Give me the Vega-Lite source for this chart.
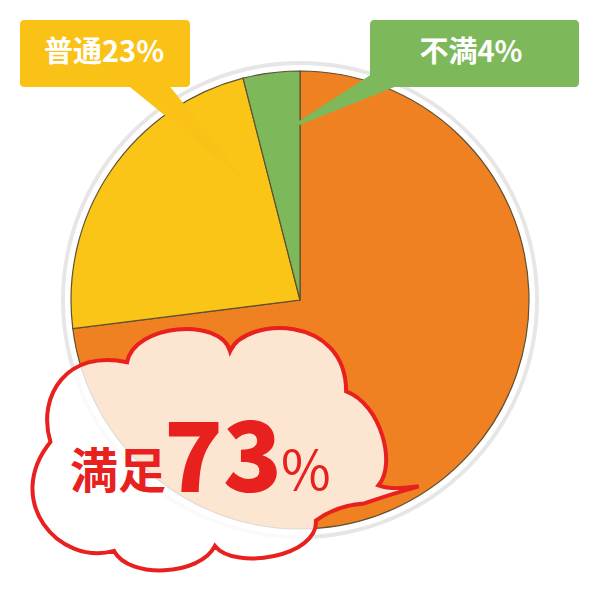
{
  "$schema": "https://vega.github.io/schema/vega-lite/v6.json",
  "width": 600,
  "height": 600,
  "padding": 0,
  "autosize": {"type": "fit", "contains": "padding"},
  "background": "white",
  "config": {
    "font": "Noto Sans CJK JP",
    "view": {"stroke": null},
    "axis": {"disable": true}
  },
  "layer": [
    {
      "data": {"values": [{}]},
      "mark": {"type": "arc", "theta": 0, "theta2": 6.2832, "radius": 239, "fill": "#e6e6e6"},
      "encoding": {}
    },
    {
      "data": {"values": [{}]},
      "mark": {"type": "arc", "theta": 0, "theta2": 6.2832, "radius": 235, "fill": "white"},
      "encoding": {}
    },
    {
      "data": {
        "values": [
          {"category": "満足", "value": 73},
          {"category": "普通", "value": 23},
          {"category": "不満", "value": 4}
        ]
      },
      "mark": {"type": "arc", "radius": 229, "stroke": "#5e5032", "strokeWidth": 1.2},
      "encoding": {
        "theta": {"field": "value", "type": "quantitative", "stack": true},
        "order": {"field": "value", "sort": "descending"},
        "color": {
          "field": "category",
          "type": "nominal",
          "scale": {"domain": ["満足", "普通", "不満"], "range": ["#f08122", "#fac516", "#7db85b"]},
          "legend": null
        }
      }
    },
    {
      "data": {"values": [{}]},
      "layer": [
        {
          "mark": {"type": "rect", "fill": "#fac216", "cornerRadius": 4},
          "encoding": {
            "x": {"datum": 20, "type": "quantitative", "scale": {"domain": [0, 600], "nice": false, "zero": false}},
            "x2": {"datum": 190},
            "y": {"datum": 20, "type": "quantitative", "scale": {"domain": [0, 600], "nice": false, "zero": false, "reverse": true}},
            "y2": {"datum": 87}
          }
        },
        {
          "mark": {"type": "point", "filled": true, "opacity": 1, "fill": "#fac216", "strokeWidth": 0, "size": 40000,
            "shape": "M -0.61 -0.52 L -0.19 -0.52 L 0.62 0.48 Z"},
          "encoding": {
            "x": {"datum": 186, "type": "quantitative"},
            "y": {"datum": 135, "type": "quantitative"}
          }
        },
        {
          "mark": {"type": "rect", "fill": "#7db85b", "cornerRadius": 4},
          "encoding": {
            "x": {"datum": 370, "type": "quantitative"},
            "x2": {"datum": 579},
            "y": {"datum": 20, "type": "quantitative"},
            "y2": {"datum": 87}
          }
        },
        {
          "mark": {"type": "point", "filled": true, "opacity": 1, "fill": "#7db85b", "strokeWidth": 0, "size": 40000,
            "shape": "M 0.32 -0.3 L 0.62 -0.2 L -0.58 0.28 Z"},
          "encoding": {
            "x": {"datum": 340, "type": "quantitative"},
            "y": {"datum": 104, "type": "quantitative"}
          }
        },
        {
          "mark": {"type": "text", "text": "普通23%", "fill": "white", "fontSize": 29, "fontWeight": "bold", "align": "center", "baseline": "middle"},
          "encoding": {
            "x": {"datum": 104, "type": "quantitative"},
            "y": {"datum": 53, "type": "quantitative"}
          }
        },
        {
          "mark": {"type": "text", "text": "不満4%", "fill": "white", "fontSize": 29, "fontWeight": "bold", "align": "center", "baseline": "middle"},
          "encoding": {
            "x": {"datum": 471, "type": "quantitative"},
            "y": {"datum": 53, "type": "quantitative"}
          }
        },
        {
          "mark": {"type": "point", "filled": false, "fill": "white", "fillOpacity": 0.8, "stroke": "#e8201e", "strokeWidth": 4, "opacity": 1, "size": 163000,
            "shape": "M -0.85 -0.04 C -0.92 -0.275 -0.76 -0.5 -0.47 -0.435 C -0.435 -0.625 -0.01 -0.66 0.04 -0.49 C 0.115 -0.66 0.615 -0.675 0.615 -0.29 C 0.79 -0.225 0.865 0.075 0.775 0.175 Q 0.84 0.2 0.975 0.18 Q 0.815 0.225 0.705 0.265 Q 0.565 0.275 0.465 0.35 C 0.48 0.525 0.065 0.6 -0.035 0.475 C -0.11 0.625 -0.46 0.64 -0.535 0.5 C -0.81 0.575 -1.085 0.25 -0.85 -0.04 Z"},
          "encoding": {
            "x": {"datum": 222, "type": "quantitative"},
            "y": {"datum": 450, "type": "quantitative"}
          }
        },
        {
          "mark": {"type": "text", "text": "満足", "fill": "#e8201e", "fontSize": 48, "fontWeight": "bold", "align": "right", "baseline": "alphabetic"},
          "encoding": {
            "x": {"datum": 166, "type": "quantitative"},
            "y": {"datum": 488, "type": "quantitative"}
          }
        },
        {
          "mark": {"type": "text", "text": "73", "fill": "#e8201e", "fontSize": 97, "fontWeight": 900, "align": "left", "baseline": "alphabetic"},
          "encoding": {
            "x": {"datum": 164, "type": "quantitative"},
            "y": {"datum": 492, "type": "quantitative"}
          }
        },
        {
          "mark": {"type": "text", "text": "%", "fill": "#e8201e", "fontSize": 54, "fontWeight": "normal", "align": "left", "baseline": "alphabetic"},
          "encoding": {
            "x": {"datum": 281, "type": "quantitative"},
            "y": {"datum": 490, "type": "quantitative"}
          }
        }
      ]
    }
  ]
}
